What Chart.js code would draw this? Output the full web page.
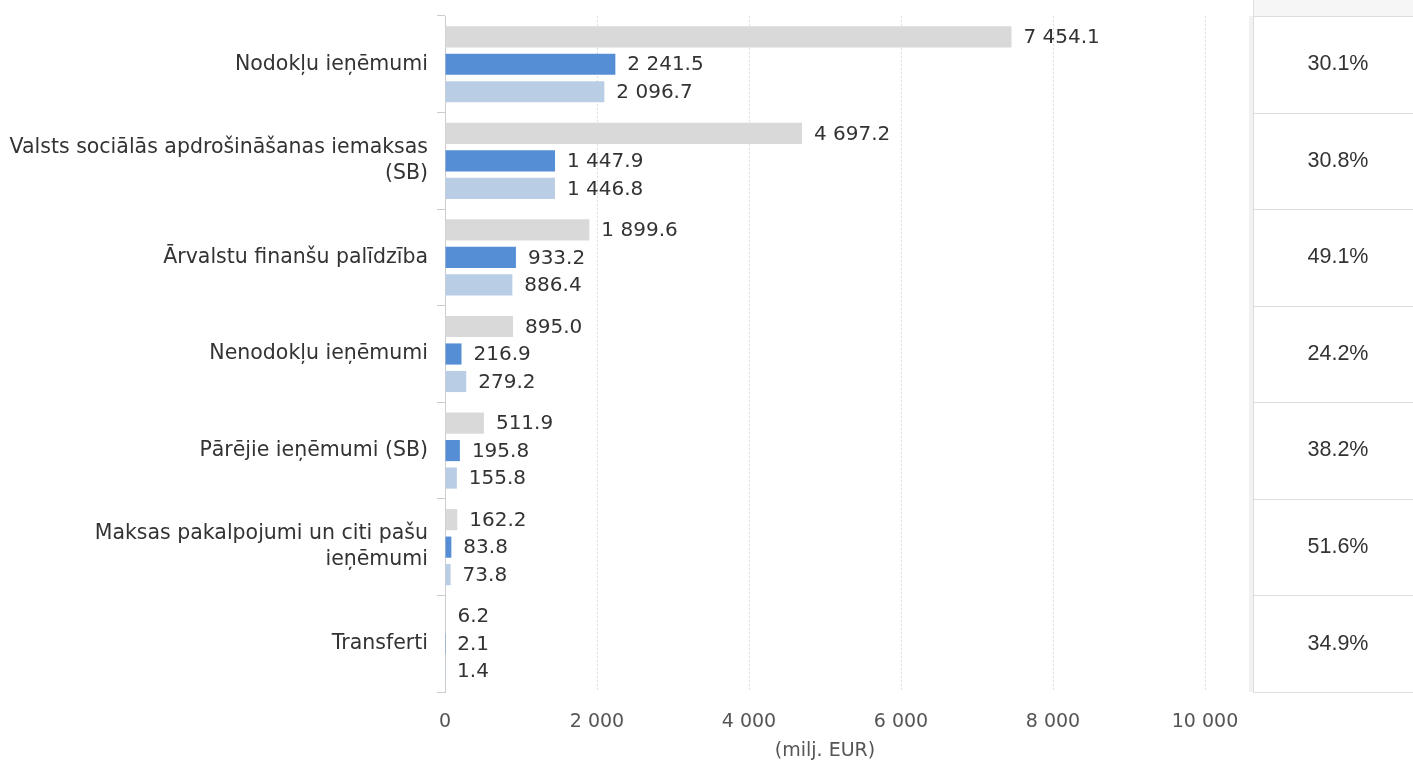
<!DOCTYPE html>
<html>
<head>
<meta charset="utf-8">
<script src="https://cdn.jsdelivr.net/npm/chart.js@4.4.0/dist/chart.umd.min.js"></script>
<style>
  html, body { margin: 0; padding: 0; background: #fff; }
  #wrap { width: 1413px; height: 762px; position: relative; }
</style>
</head>
<body>
<div id="wrap"><canvas id="revenueChart" width="1413" height="762"></canvas></div>
<script>
// kategorijas un vērtības (milj. EUR)
const categories = [
    'Nodokļu ieņēmumi',
    ['Valsts sociālās apdrošināšanas iemaksas', '(SB)'],
    'Ārvalstu finanšu palīdzība',
    'Nenodokļu ieņēmumi',
    'Pārējie ieņēmumi (SB)',
    ['Maksas pakalpojumi un citi pašu', 'ieņēmumi'],
    'Transferti'
];
const planValues = [7454.1, 4697.2, 1899.6, 895.0, 511.9, 162.2, 6.2];
const actualValues = [2241.5, 1447.9, 933.2, 216.9, 195.8, 83.8, 2.1];
const prevYearValues = [2096.7, 1446.8, 886.4, 279.2, 155.8, 73.8, 1.4];
const shareLabels = ['30.1%', '30.8%', '49.1%', '24.2%', '38.2%', '51.6%', '34.9%'];
const xTicks = [0, 2000, 4000, 6000, 8000, 10000];

const FONT = 'DejaVu Sans';

function fmt(v, dec) {
    const s = v.toFixed(dec);
    const parts = s.split('.');
    parts[0] = parts[0].replace(/\B(?=(\d{3})+(?!\d))/g, ' ');
    return parts.join('.');
}

const valueLabels = {
    id: 'valueLabels',
    afterDatasetsDraw(chart) {
        const ctx = chart.ctx;
        ctx.save();
        ctx.font = '20px "' + FONT + '"';
        ctx.fillStyle = '#333333';
        ctx.textBaseline = 'middle';
        ctx.textAlign = 'left';
        chart.data.datasets.forEach((ds, di) => {
            const meta = chart.getDatasetMeta(di);
            meta.data.forEach((bar, i) => {
                ctx.fillText(fmt(ds.data[i], 1), bar.x + 12, bar.y + 1);
            });
        });
        ctx.restore();
    }
};

const shareTable = {
    id: 'shareTable',
    afterDraw(chart) {
        const ctx = chart.ctx;
        const y = chart.scales.y;
        const n = categories.length;
        const rowH = y.height / n;
        const left = 1253;
        const right = chart.width;
        ctx.save();
        ctx.fillStyle = '#f6f6f6';
        ctx.fillRect(left, 0, right - left, y.top);
        ctx.fillStyle = '#f2f2f2';
        ctx.fillRect(left - 4, y.top, 4, y.bottom - y.top);
        ctx.strokeStyle = '#dddddd';
        ctx.lineWidth = 1;
        ctx.beginPath();
        ctx.moveTo(left + 0.5, 0);
        ctx.lineTo(left + 0.5, y.bottom);
        for (let i = 0; i <= n; i++) {
            const yy = Math.round(y.top + i * rowH) + 0.5;
            ctx.moveTo(left, yy);
            ctx.lineTo(right, yy);
        }
        ctx.stroke();
        ctx.font = '21.5px "Liberation Sans"';
        ctx.fillStyle = '#333333';
        ctx.textAlign = 'center';
        ctx.textBaseline = 'middle';
        shareLabels.forEach((t, i) => {
            ctx.fillText(t, 1338, y.top + (i + 0.5) * rowH);
        });
        ctx.restore();
    }
};

function initializeChart() {
    const ctx = document.getElementById('revenueChart').getContext('2d');
    new Chart(ctx, {
        type: 'bar',
        data: {
            labels: categories,
            datasets: [{
                label: 'Plāns',
                data: planValues,
                backgroundColor: '#d9d9d9'
            }, {
                label: 'Izpilde',
                data: actualValues,
                backgroundColor: '#558ed5'
            }, {
                label: 'Iepriekšējā gada izpilde',
                data: prevYearValues,
                backgroundColor: '#b9cde5'
            }]
        },
        options: {
            indexAxis: 'y',
            responsive: false,
            animation: false,
            categoryPercentage: 0.854,
            barPercentage: 0.77,
            layout: { padding: { top: 16, right: 208, left: 0, bottom: 0 } },
            plugins: {
                legend: { display: false },
                tooltip: { enabled: false }
            },
            scales: {
                x: {
                    min: 0,
                    max: 10000,
                    afterBuildTicks(scale) {
                        scale.ticks = xTicks.map(v => ({ value: v }));
                    },
                    afterFit(scale) { scale.height = 70; },
                    grid: { color: '#dedede', drawTicks: false },
                    border: { display: false, dash: [2, 2] },
                    ticks: {
                        padding: 19,
                        color: '#555555',
                        font: { family: FONT, size: 19 },
                        callback: v => fmt(v, 0)
                    },
                    title: {
                        display: true,
                        text: '(milj. EUR)',
                        color: '#555555',
                        font: { family: FONT, size: 19 },
                        padding: { top: 0, bottom: 0 }
                    }
                },
                y: {
                    afterFit(scale) {
                        scale.width = 445;
                        scale.paddingTop = 0;
                        scale.paddingBottom = 0;
                    },
                    grid: { offset: true, drawOnChartArea: false, tickLength: 8, color: '#cccccc' },
                    border: { display: true, color: '#cccccc' },
                    ticks: {
                        padding: 9,
                        color: '#333333',
                        font: { family: FONT, size: 20.5, lineHeight: 1.27 }
                    }
                }
            }
        },
        plugins: [valueLabels, shareTable]
    });
}

document.addEventListener('DOMContentLoaded', initializeChart);
</script>
</body>
</html>
